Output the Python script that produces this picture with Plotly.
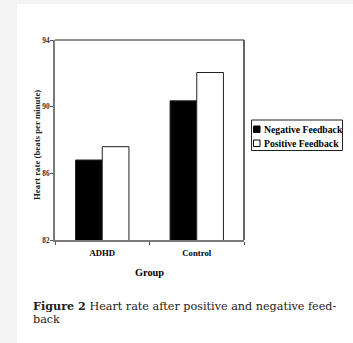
import plotly.graph_objects as go

groups = ["ADHD", "Control"]
negative_feedback = [86.8, 90.35]
positive_feedback = [87.6, 92.05]
y_ticks = [82, 86, 90, 94]
series_names = ["Negative Feedback", "Positive Feedback"]

W, H = 353, 343
L, R, T, B = 55, 109, 40, 103
PW, PH = W - L - R, H - T - B

def px(x):
    return (x - L) / PW

def py(y):
    return (H - B - y) / PH

SERIF = "Liberation Serif"

fig = go.Figure()
fig.add_trace(go.Bar(x=groups, y=negative_feedback, name=series_names[0],
                     marker=dict(color="black", line=dict(color="#222", width=1)),
                     showlegend=False))
fig.add_trace(go.Bar(x=groups, y=positive_feedback, name=series_names[1],
                     marker=dict(color="white", line=dict(color="#222", width=1)),
                     showlegend=False))

shapes = []
shapes.append(dict(type="rect", xref="paper", yref="paper", layer="below",
                   x0=px(17), x1=px(W + 5), y0=py(H + 5), y1=py(4),
                   fillcolor="white", line=dict(width=0)))
shapes.append(dict(type="line", xref="paper", yref="paper", x0=0, x1=1, y0=1, y1=1,
                   line=dict(color="#222", width=1)))
shapes.append(dict(type="line", xref="paper", yref="paper", x0=1, x1=1, y0=0, y1=1,
                   line=dict(color="#333", width=1.5)))
shapes.append(dict(type="rect", xref="paper", yref="paper",
                   x0=px(251.5), x1=px(342.5), y0=py(150.5), y1=py(120),
                   fillcolor="white", line=dict(color="#222", width=1)))
shapes.append(dict(type="rect", xref="paper", yref="paper",
                   x0=px(253.5), x1=px(260), y0=py(132.5), y1=py(126),
                   fillcolor="black", line=dict(color="black", width=1)))
shapes.append(dict(type="rect", xref="paper", yref="paper",
                   x0=px(253.5), x1=px(260), y0=py(146.5), y1=py(140),
                   fillcolor="white", line=dict(color="black", width=1)))

ann = []
for name, yy in zip(series_names, [129.3, 143.3]):
    ann.append(dict(text=name, xref="paper", yref="paper", x=px(261.5), y=py(yy),
                    xanchor="left", yanchor="middle", showarrow=False,
                    font=dict(family=SERIF, size=9.7, color="black", weight="bold")))
ann.append(dict(text="Heart rate (beats per minute)", xref="paper", yref="paper",
                x=px(37), y=py(145), textangle=-90, showarrow=False,
                xanchor="center", yanchor="middle",
                font=dict(family=SERIF, size=8.8, color="#222", weight="bold")))
ann.append(dict(text="Group", xref="paper", yref="paper",
                x=px(149.5), y=py(272.5), showarrow=False,
                xanchor="center", yanchor="middle",
                font=dict(family=SERIF, size=10.3, color="black", weight="bold")))
ann.append(dict(text="<b>Figure 2</b> Heart rate after positive and negative feed-",
                xref="paper", yref="paper", x=px(31), y=py(305.5), showarrow=False,
                xanchor="left", yanchor="middle",
                font=dict(family="DejaVu Serif", size=11.2, color="#222")))
ann.append(dict(text="back",
                xref="paper", yref="paper", x=px(31), y=py(319.5), showarrow=False,
                xanchor="left", yanchor="middle",
                font=dict(family="DejaVu Serif", size=11.2, color="#222")))

fig.update_layout(
    width=W, height=H,
    margin=dict(l=L, r=R, t=T, b=B, pad=0),
    paper_bgcolor="#f3f3f3",
    plot_bgcolor="rgba(0,0,0,0)",
    barmode="group", bargap=0.435, bargroupgap=0,
    showlegend=False,
    shapes=shapes, annotations=ann,
    xaxis=dict(type="category", showgrid=False, zeroline=False,
               showline=True, linecolor="#7a7a7a", linewidth=2,
               ticks="outside", ticklen=3, tickcolor="#555", tickwidth=1,
               tickson="boundaries", ticklabelstandoff=4,
               tickfont=dict(family=SERIF, size=8.7, color="black", weight="bold")),
    yaxis=dict(range=[82, 94], tickvals=y_ticks, ticktext=[str(v) for v in y_ticks],
               showgrid=False, zeroline=False,
               showline=True, linecolor="#7a7a7a", linewidth=2,
               ticks="outside", ticklen=3, tickcolor="#555", tickwidth=1,
               ticklabelstandoff=-1,
               tickfont=dict(family=SERIF, size=7.3, color="#333", weight="bold")),
)

fig.write_html("out.html", config={"displayModeBar": False},
               post_script="document.body.style.margin='0';document.body.style.overflow='hidden';")
